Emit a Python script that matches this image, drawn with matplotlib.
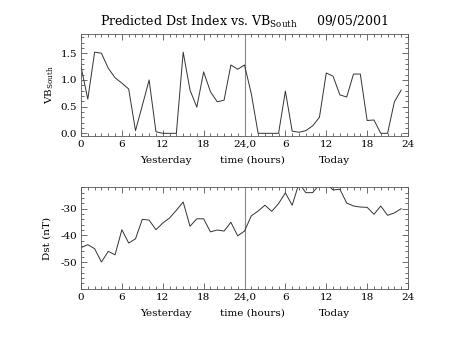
import matplotlib
matplotlib.use('Agg')
import matplotlib.pyplot as plt
from matplotlib.ticker import MultipleLocator

plt.rcParams['font.family'] = 'DejaVu Serif'
plt.rcParams['axes.unicode_minus'] = False

# hours since 0 UT yesterday (0..47)
hours = list(range(48))

vb_south = [1.25, 0.64, 1.52, 1.50, 1.22, 1.04, 0.94, 0.83, 0.05, 0.52,
            1.00, 0.03, 0.0, 0.0, 0.0, 1.52, 0.81, 0.49, 1.15, 0.78,
            0.59, 0.62, 1.28, 1.20, 1.28, 0.74, 0.0, 0.0, 0.0, 0.0,
            0.79, 0.04, 0.02, 0.05, 0.14, 0.30, 1.13, 1.07, 0.72, 0.68,
            1.11, 1.11, 0.24, 0.25, 0.0, 0.0, 0.59, 0.81]

dst = [-44.6, -43.5, -45.0, -50.0, -46.0, -47.3, -37.9, -42.9, -41.3, -34.0,
       -34.3, -37.9, -35.4, -33.5, -30.6, -27.5, -36.6, -33.8, -33.8, -38.7,
       -38.0, -38.4, -35.1, -40.2, -38.4, -32.7, -30.9, -28.7, -31.0, -28.1,
       -24.1, -28.7, -20.5, -24.0, -24.0, -21.0, -20.5, -23.0, -22.7, -27.9,
       -29.0, -29.4, -29.5, -32.1, -29.0, -32.5, -31.6, -30.0]

xticks = [0, 6, 12, 18, 24, 30, 36, 42, 48]
xticklabels = ['0', '6', '12', '18', '24,0', '6', '12', '18', '24']

line_c = '#333333'

fig = plt.figure(figsize=(4.54, 3.41), dpi=100)
ax1 = fig.add_axes([0.1784, 0.6012, 0.7203, 0.2991])
ax2 = fig.add_axes([0.1784, 0.1534, 0.7203, 0.2973])

for ax in (ax1, ax2):
    ax.set_xlim(0, 48)
    ax.set_xticks(xticks)
    ax.set_xticklabels(xticklabels)
    ax.xaxis.set_minor_locator(MultipleLocator(1))
    ax.tick_params(which='both', direction='in', top=True, right=True,
                   labelsize=7.5, color='#555555', width=0.6, pad=3)
    ax.tick_params(which='major', length=4)
    ax.tick_params(which='minor', length=2)
    for s in ax.spines.values():
        s.set_linewidth(0.6)
        s.set_color('#555555')
    ax.axvline(24, color='#888888', lw=0.8)
    tr = ax.get_xaxis_transform()
    ax.text(12.5, -0.24, 'Yesterday', transform=tr, ha='center', va='center', fontsize=7.5)
    ax.text(25.2, -0.24, 'time (hours)', transform=tr, ha='center', va='center', fontsize=7.5)
    ax.text(37.2, -0.24, 'Today', transform=tr, ha='center', va='center', fontsize=7.5)

ax1.plot(hours, vb_south, color=line_c, lw=0.7)
ax1.set_ylim(-0.05, 1.86)
ax1.set_yticks([0.0, 0.5, 1.0, 1.5])
ax1.set_yticklabels(['0.0', '0.5', '1.0', '1.5'])
ax1.yaxis.set_minor_locator(MultipleLocator(0.1))
ax1.set_ylabel(r'VB$_{\mathregular{South}}$', fontsize=7.5, labelpad=3)
ax1.set_title(r'Predicted Dst Index vs. VB$_{\mathregular{South}}$     09/05/2001',
              fontsize=9, pad=6)

ax2.plot(hours, dst, color=line_c, lw=0.7)
ax2.set_ylim(-60, -22)
ax2.set_yticks([-50, -40, -30])
ax2.yaxis.set_minor_locator(MultipleLocator(2))
ax2.set_ylabel('Dst (nT)', fontsize=7.5, labelpad=6)

fig.savefig('out.png', dpi=100)
